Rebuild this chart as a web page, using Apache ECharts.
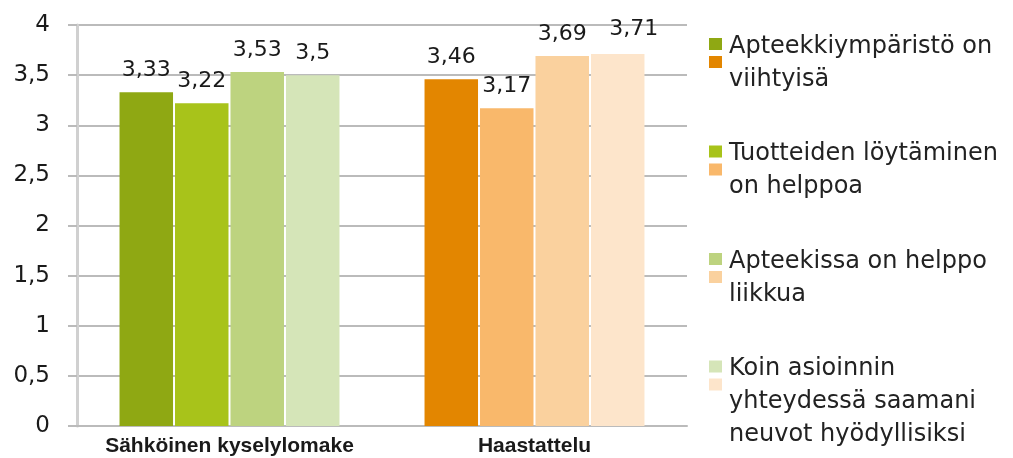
<!DOCTYPE html>
<html>
<head>
<meta charset="utf-8">
<script src="https://cdn.jsdelivr.net/npm/echarts@6/dist/echarts.min.js"></script>
<style>html,body{margin:0;padding:0;background:#fff}#c{width:1013px;height:458px}</style>
</head>
<body>
<div id="c"></div>
<script>
const categories = ['Sähköinen kyselylomake', 'Haastattelu'];
const seriesNames = [
  'Apteekkiympäristö on viihtyisä',
  'Tuotteiden löytäminen on helppoa',
  'Apteekissa on helppo liikkua',
  'Koin asioinnin yhteydessä saamani neuvot hyödyllisiksi'
];
const legendLabels = [
  'Apteekkiympäristö on\nviihtyisä\n ',
  'Tuotteiden löytäminen\non helppoa\n ',
  'Apteekissa on helppo\nliikkua\n ',
  'Koin asioinnin\nyhteydessä saamani\nneuvot hyödyllisiksi'
];
// values per series: [Sähköinen kyselylomake, Haastattelu]
const valApteekkiymparisto = [3.33, 3.46];
const valTuotteiden = [3.22, 3.17];
const valLiikkua = [3.53, 3.69];
const valNeuvot = [3.5, 3.71];
const seriesValues = [valApteekkiymparisto, valTuotteiden, valLiikkua, valNeuvot];
const greens = ['#8FA813', '#A8C31A', '#BDD37F', '#D5E5B8'];
const oranges = ['#E38600', '#F9B86B', '#FAD19E', '#FDE5CB'];
const yTicks = [0, 0.5, 1, 1.5, 2, 2.5, 3, 3.5, 4];

const fmt = v => String(v).replace('.', ',');

const series = seriesNames.map((name, i) => ({
  name: name,
  type: 'bar',
  barWidth: 53.5,
  barGap: '3.7%',
  itemStyle: { color: greens[i] },
  label: {
    show: true,
    position: 'top',
    distance: 11,
    fontFamily: 'DejaVu Sans',
    fontSize: 22,
    color: '#1a1a1a',
    formatter: p => fmt(p.value)
  },
  data: seriesValues[i].map((v, j) => {
    const d = { value: v, itemStyle: { color: j === 0 ? greens[i] : oranges[i] } };
    if (i === 3 && j === 1) d.label = { offset: [16, -3] };
    return d;
  })
}));

const greenIcon = 'path://M0,0L13,0L13,12L0,12ZM13,83';
const orangeIcon = 'path://M0,0M0,18L13,18L13,30L0,30ZM13,83';
const legendBase = {
  orient: 'vertical',
  left: 709,
  top: 30,
  padding: 0,
  itemWidth: 13,
  itemHeight: 83,
  itemGap: 8.5,
  symbolKeepAspect: false,
  formatter: name => legendLabels[seriesNames.indexOf(name)],
};

const option = {
  animation: false,
  backgroundColor: '#ffffff',
  grid: { left: 77, right: 326, top: 25, bottom: 32 },
  legend: [
    Object.assign({}, legendBase, {
      textStyle: { fontFamily: 'DejaVu Sans', fontSize: 24, lineHeight: 33, color: '#222222', padding: [0, 0, 0, 2] },
      data: seriesNames.map((n, i) => ({ name: n, icon: greenIcon, itemStyle: { color: greens[i] } }))
    }),
    Object.assign({}, legendBase, {
      textStyle: { fontFamily: 'DejaVu Sans', fontSize: 24, lineHeight: 33, color: 'rgba(0,0,0,0)', padding: [0, 0, 0, 2] },
      data: seriesNames.map((n, i) => ({ name: n, icon: orangeIcon, itemStyle: { color: oranges[i] } }))
    })
  ],
  xAxis: {
    type: 'category',
    data: categories,
    axisLine: { show: true, lineStyle: { color: '#BBBBBB', width: 2 } },
    axisTick: { show: false },
    axisLabel: {
      interval: 0,
      margin: 10,
      fontFamily: 'Liberation Sans',
      fontWeight: 'bold',
      fontSize: 21,
      color: '#1a1a1a'
    }
  },
  yAxis: {
    type: 'value',
    min: yTicks[0],
    max: yTicks[yTicks.length - 1],
    interval: 0.5,
    axisLine: { show: true, lineStyle: { color: '#D0D0D0', width: 3 } },
    axisTick: { show: true, length: 9, lineStyle: { color: '#BBBBBB', width: 2 } },
    splitLine: { show: true, lineStyle: { color: '#BBBBBB', width: 2 } },
    axisLabel: {
      margin: 27,
      fontFamily: 'DejaVu Sans',
      fontSize: 23,
      color: '#1a1a1a',
      formatter: v => fmt(v)
    }
  },
  series: series
};

const chart = echarts.init(document.getElementById('c'), null, { renderer: 'canvas' });
chart.setOption(option);
</script>
</body>
</html>
